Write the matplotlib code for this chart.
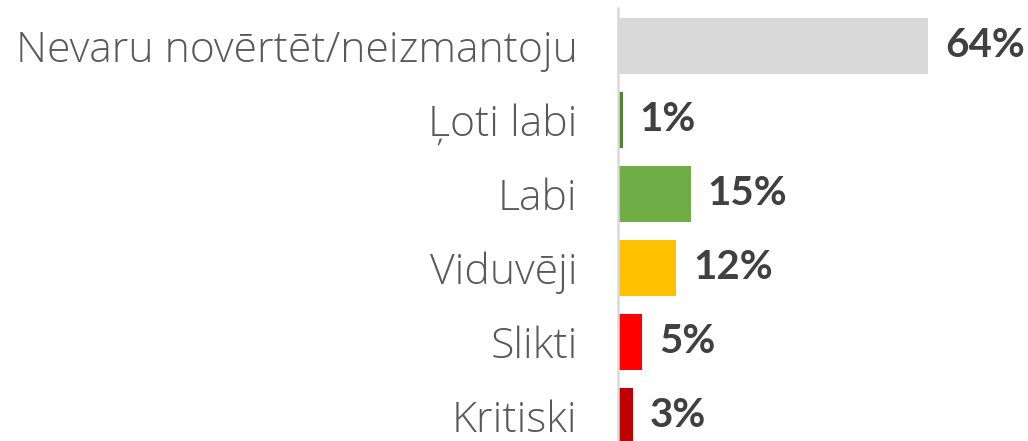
import matplotlib
matplotlib.use('Agg')
import matplotlib.pyplot as plt

# Survey answers (top to bottom) and their shares in %
categories = ["Nevaru novērtēt/neizmantoju", "Ļoti labi", "Labi", "Viduvēji", "Slikti", "Kritiski"]
values = [64, 1, 15, 12, 5, 3]
colors = ["#d9d9d9", "#548235", "#70ad47", "#ffc000", "#ff0000", "#c00000"]

W, H = 1028, 441
fig = plt.figure(figsize=(W / 100, H / 100), dpi=100)
ax = fig.add_axes([618 / W, 0, (W - 618) / W, (H - 8) / H])

y = list(range(len(categories)))
ax.barh(y, values, height=0.76, color=colors)

ax.set_xlim(0, (W - 618) / 4.84)
ax.set_ylim(5.34, -0.51)

ax.set_yticks(y)
ax.set_yticklabels(categories, fontsize=30.8, color="#595959",
                   family=["Open Sans", "DejaVu Sans"], fontweight="light")
ax.tick_params(axis="y", length=0, pad=29)
ax.set_xticks([])

for s in ["top", "right", "bottom"]:
    ax.spines[s].set_visible(False)
ax.spines["left"].set_color("#d9d9d9")
ax.spines["left"].set_linewidth(1.8)

for yi, v in zip(y, values):
    ax.annotate(f"{v}%", xy=(v, yi), xytext=(17, 0), textcoords="offset pixels",
                va="center", ha="left", fontsize=29, fontweight="bold",
                color="#404040", family=["Lato", "DejaVu Sans"])

fig.savefig("out.png", dpi=100, facecolor="white")
